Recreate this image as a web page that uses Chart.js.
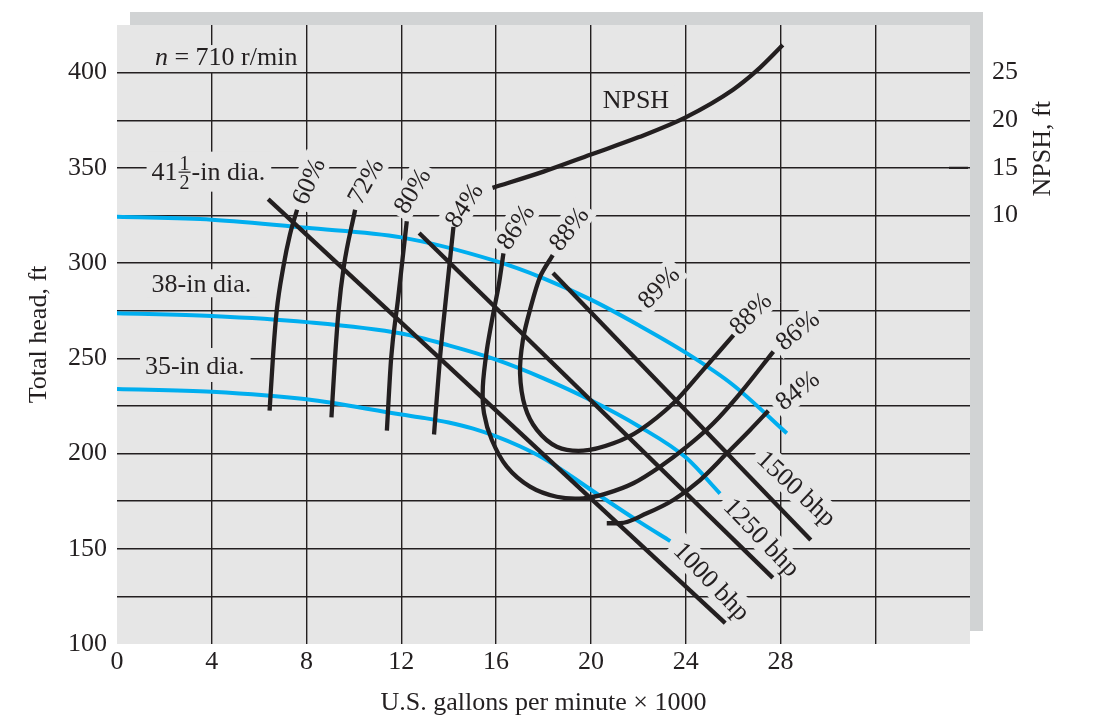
<!DOCTYPE html>
<html>
<head>
<meta charset="utf-8">
<title>Pump performance curves</title>
<script src="https://cdn.jsdelivr.net/npm/chart.js@4.4.1/dist/chart.umd.min.js"></script>
<style>
  html, body { margin: 0; padding: 0; background: #fff; }
  #chart { display: block; }
</style>
</head>
<body>
<canvas id="chart" width="1094" height="726"></canvas>
<script>
/////////////////////////////// data //////////////////////////////////
// Q in 1000 US gal/min, head in ft, NPSH in ft

const gpmTicks = [0, 4, 8, 12, 16, 20, 24, 28];
const headTicks = [100, 150, 200, 250, 300, 350, 400];
const npshTicks = [10, 15, 20, 25];

// head-capacity curves per impeller diameter
const dia415 = [[0, 324.3], [4, 322.8], [8, 318.5], [12, 313.5], [16, 301], [18, 292], [20, 280.8], [22, 267.5], [24, 253], [26, 236], [28.27, 210.6]];
const dia38 = [[0, 273.6], [4, 272.2], [8, 269], [12, 263], [14, 256.8], [16, 249.3], [18, 239.5], [20, 228], [22, 214.5], [24, 198], [25.45, 179]];
const dia35 = [[0, 233.9], [4, 232.5], [8, 228.5], [12, 220.5], [13, 218.6], [14, 216.3], [15, 213.2], [16, 209], [17, 203.8], [18, 197.5], [19, 189.5], [20, 181], [22, 164.5], [23.35, 154]];

// brake horsepower lines
const bhp1000 = [[6.38, 333.6], [25.67, 111]];
const bhp1250 = [[12.75, 315.8], [27.68, 134.7]];
const bhp1500 = [[18.4, 294.8], [29.28, 154.6]];

// efficiency contours
const eff60 = [[6.44, 222.5], [6.6, 254], [6.74, 275], [7.02, 298], [7.3, 315], [7.6, 328]];
const eff72 = [[9.05, 219], [9.2, 250], [9.35, 275], [9.57, 298], [10.05, 328]];
const eff80 = [[11.39, 212], [11.57, 250], [11.86, 281], [12.23, 322]];
const eff84 = [[13.38, 210], [13.63, 250], [13.93, 287], [14.2, 319]];
const eff86 = [[16.31, 305.1], [16.1, 287.6], [15.88, 273.6], [15.61, 254.4], [15.44, 235.1], [15.49, 221.1], [15.82, 207.1], [16.45, 193.1], [17.43, 182.6], [18.56, 177.3], [19.68, 176.5], [20.67, 179.1], [21.79, 184.4], [22.92, 193.1], [24.05, 203.6], [25.17, 215.9], [26.3, 231.6], [27.7, 253.5]];
const eff88 = [[18.39, 304.2], [17.86, 292.9], [17.43, 275.4], [17.13, 259.6], [17.01, 242.1], [17.22, 224.6], [17.72, 212.4], [18.56, 203.6], [19.68, 201.5], [20.95, 205.4], [22.08, 212.4], [23.48, 226.4], [24.61, 242.1], [26.02, 262.2]];
const eff84r = [[20.67, 163.4], [21.23, 163.4], [22.36, 168.6], [23.48, 175.6], [24.61, 186.1], [25.74, 200.1], [26.72, 212.4], [27.49, 222.5]];

// required NPSH (right axis)
const npsh = [[15.85, 12.9], [18, 14.6], [20, 16.4], [22, 18.2], [24, 20.3], [26, 23.2], [27, 25.2], [28.1, 27.9]];

// text on the chart: anchor in data units, angle in degrees
const notes = [
    { text: '60%', q: 8.06, h: 343.1, rot: -66 },
    { text: '72%', q: 10.47, h: 343.1, rot: -61 },
    { text: '80%', q: 12.44, h: 338.1, rot: -59 },
    { text: '84%', q: 14.62, h: 330.5, rot: -56 },
    { text: '86%', q: 16.8, h: 319.1, rot: -57 },
    { text: '88%', q: 19.05, h: 318.2, rot: -52 },
    { text: '89%', q: 22.85, h: 287.5, rot: -46 },
    { text: '88%', q: 26.72, h: 273.8, rot: -45 },
    { text: '86%', q: 28.7, h: 264.9, rot: -39 },
    { text: '84%', q: 28.7, h: 233.4, rot: -38 },
    { text: '1500 bhp', q: 28.7, h: 181.9, rot: 43 },
    { text: '1250 bhp', q: 27.23, h: 156.2, rot: 46 },
    { text: '1000 bhp', q: 25.12, h: 133.1, rot: 46 },
    { text: 'NPSH', q: 21.9, h: 385.9, rot: 0 }
];

/////////////////////////////// styles //////////////////////////////////

const FONT = "'Liberation Serif', 'Times New Roman', serif";
const INK = '#231f20';
const BLUE = '#00aeef';
const PAPER = '#e6e6e6';
const SHADOW = '#d1d3d4';

const toXY = pts => pts.map(p => ({ x: p[0], y: p[1] }));

// interp: 'monotone' for curves running left to right, a number for bezier tension
const curve = (pts, color, order, interp, axis) => ({
    data: toXY(pts),
    borderColor: color,
    borderWidth: color === BLUE ? 4 : 4.3,
    borderCapStyle: 'butt',
    showLine: true,
    pointRadius: 0,
    cubicInterpolationMode: interp === 'monotone' ? 'monotone' : 'default',
    tension: interp === 'monotone' ? 0.4 : interp,
    order: order,
    yAxisID: axis || 'y'
});

function maskedText(ctx, text, x, y, rot) {
    ctx.save();
    ctx.translate(x, y);
    ctx.rotate(rot * Math.PI / 180);
    ctx.font = '26px ' + FONT;
    const w = ctx.measureText(text).width;
    ctx.fillStyle = PAPER;
    ctx.fillRect(-w / 2 - 5, -14, w + 10, 28);
    ctx.fillStyle = INK;
    ctx.textAlign = 'center';
    ctx.textBaseline = 'alphabetic';
    ctx.fillText(text, 0, 8.6);
    ctx.restore();
}

// left-anchored label built from parts (italic bits, stacked fraction)
function leftText(ctx, parts, x, y, maskTop, maskBottom) {
    ctx.save();
    let w = 0;
    parts.forEach(p => {
        if (p.frac) {
            ctx.font = '20px ' + FONT;
            p.w = ctx.measureText(p.frac[0]).width + 4;
        } else {
            ctx.font = (p.italic ? 'italic ' : '') + '26px ' + FONT;
            p.w = ctx.measureText(p.t).width;
        }
        w += p.w;
    });
    ctx.fillStyle = PAPER;
    ctx.fillRect(x - 5, y - maskTop, w + 11, maskTop + maskBottom);
    ctx.fillStyle = INK;
    ctx.strokeStyle = INK;
    ctx.textBaseline = 'alphabetic';
    let cx = x;
    parts.forEach(p => {
        if (p.frac) {
            ctx.font = '20px ' + FONT;
            ctx.textAlign = 'center';
            ctx.fillText(p.frac[0], cx + p.w / 2, y - 2);
            ctx.fillText(p.frac[1], cx + p.w / 2, y + 17);
            ctx.lineWidth = 1.2;
            ctx.beginPath();
            ctx.moveTo(cx + 1, y + 0.5);
            ctx.lineTo(cx + p.w - 1, y + 0.5);
            ctx.stroke();
        } else {
            ctx.font = (p.italic ? 'italic ' : '') + '26px ' + FONT;
            ctx.textAlign = 'left';
            ctx.fillText(p.t, cx, y + 8.6);
        }
        cx += p.w;
    });
    ctx.restore();
}

const paperPlugin = {
    id: 'paper',
    beforeDraw(chart) {
        const { ctx, chartArea: a } = chart;
        ctx.save();
        ctx.fillStyle = '#fff';
        ctx.fillRect(0, 0, chart.width, chart.height);
        ctx.fillStyle = SHADOW;
        ctx.fillRect(a.left + 13, a.top - 13, a.right - a.left, a.bottom - a.top);
        ctx.fillStyle = PAPER;
        ctx.fillRect(a.left, a.top, a.right - a.left, a.bottom - a.top);
        ctx.restore();
    }
};

const notesPlugin = {
    id: 'notes',
    beforeDatasetsDraw(chart) {
        const { ctx, scales: { x, y } } = chart;
        notes.forEach(n => maskedText(ctx, n.text, x.getPixelForValue(n.q), y.getPixelForValue(n.h), n.rot));
        leftText(ctx, [{ t: 'n', italic: true }, { t: ' = 710 r/min' }], x.getPixelForValue(1.6), y.getPixelForValue(408.7), 11, 16);
        leftText(ctx, [{ t: '41' }, { frac: ['1', '2'] }, { t: '-in dia.' }], x.getPixelForValue(1.46), y.getPixelForValue(348), 20, 20);
        leftText(ctx, [{ t: '38-in dia.' }], x.getPixelForValue(1.46), y.getPixelForValue(289.4), 14, 14);
        leftText(ctx, [{ t: '35-in dia.' }], x.getPixelForValue(1.18), y.getPixelForValue(246.5), 17, 17);
    },
    afterDraw(chart) {
        const { ctx, chartArea: a, scales: { y2 } } = chart;
        ctx.save();
        // short tick on the right edge at NPSH 15
        ctx.strokeStyle = INK;
        ctx.lineWidth = 2.2;
        ctx.beginPath();
        ctx.moveTo(a.right - 21, y2.getPixelForValue(15));
        ctx.lineTo(a.right - 2, y2.getPixelForValue(15));
        ctx.stroke();
        // right axis title
        ctx.translate(a.right + 73, y2.getPixelForValue(17));
        ctx.rotate(-Math.PI / 2);
        ctx.font = '26px ' + FONT;
        ctx.fillStyle = INK;
        ctx.textAlign = 'center';
        ctx.textBaseline = 'middle';
        ctx.fillText('NPSH, ft', 0, 0);
        ctx.restore();
    }
};

/////////////////////////////// chart //////////////////////////////////

const gridColor = (skip) => (c) => skip.includes(c.tick.value) ? 'rgba(0,0,0,0)' : INK;
const tickFont = { family: FONT, size: 26 };

// fixed axis box size, no extra room for overhanging tick labels
const fixSize = (dim, val) => s => {
    s[dim] = val;
    s.paddingTop = 0;
    s.paddingBottom = 0;
    s.paddingLeft = 0;
    s.paddingRight = 0;
};

new Chart(document.getElementById('chart').getContext('2d'), {
    type: 'scatter',
    data: {
        datasets: [
            curve(dia415, BLUE, 2, 'monotone'),
            curve(dia38, BLUE, 2, 'monotone'),
            curve(dia35, BLUE, 2, 'monotone'),
            curve(bhp1000, INK, 1, 0),
            curve(bhp1250, INK, 1, 0),
            curve(bhp1500, INK, 1, 0),
            curve(eff60, INK, 1, 'monotone'),
            curve(eff72, INK, 1, 'monotone'),
            curve(eff80, INK, 1, 'monotone'),
            curve(eff84, INK, 1, 'monotone'),
            curve(eff86, INK, 1, 0.3),
            curve(eff88, INK, 1, 0.3),
            curve(eff84r, INK, 1, 'monotone'),
            curve(npsh, INK, 1, 'monotone', 'y2')
        ]
    },
    options: {
        responsive: false,
        animation: false,
        devicePixelRatio: 1,
        layout: { padding: { top: 25, left: 0, right: 0, bottom: 0 } },
        scales: {
            x: {
                type: 'linear',
                min: 0,
                max: 36,
                afterFit: fixSize('height', 82),
                ticks: {
                    stepSize: 4,
                    autoSkip: false,
                    maxRotation: 0,
                    color: INK,
                    font: tickFont,
                    callback: v => gpmTicks.includes(v) ? String(v) : ''
                },
                grid: { color: gridColor([0, 36]), lineWidth: 1.4, drawTicks: false },
                border: { display: false },
                title: {
                    display: true,
                    text: 'U.S. gallons per minute × 1000',
                    color: INK,
                    font: tickFont,
                    padding: { top: 0, bottom: 7.4 }
                }
            },
            y: {
                type: 'linear',
                position: 'left',
                min: 100,
                max: 425,
                afterFit: fixSize('width', 117),
                ticks: {
                    stepSize: 25,
                    autoSkip: false,
                    padding: 10,
                    color: INK,
                    font: tickFont,
                    callback: v => headTicks.includes(v) ? String(v) : ''
                },
                grid: { color: gridColor([100, 425]), lineWidth: 1.4, drawTicks: false },
                border: { display: false },
                title: {
                    display: true,
                    text: 'Total head, ft',
                    color: INK,
                    font: tickFont,
                    padding: { top: 24, bottom: 0 }
                }
            },
            y2: {
                type: 'linear',
                position: 'right',
                min: -35,
                max: 30,
                afterFit: fixSize('width', 124),
                ticks: {
                    stepSize: 5,
                    autoSkip: false,
                    padding: 22,
                    color: INK,
                    font: tickFont,
                    callback: v => npshTicks.includes(v) ? String(v) : ''
                },
                grid: { display: false, drawTicks: false },
                border: { display: false }
            }
        },
        plugins: {
            legend: { display: false },
            tooltip: { enabled: false }
        }
    },
    plugins: [paperPlugin, notesPlugin]
});
</script>
</body>
</html>
